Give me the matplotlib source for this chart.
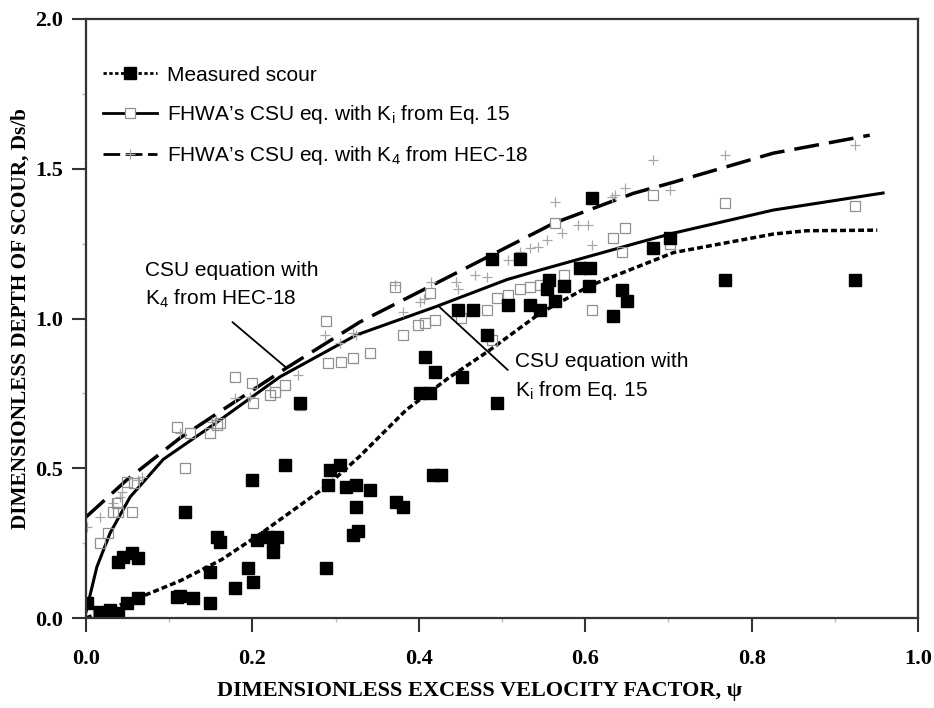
import matplotlib
matplotlib.use("Agg")
import matplotlib.pyplot as plt
from matplotlib.lines import Line2D

plt.rcParams['mathtext.fontset'] = 'custom'
plt.rcParams['mathtext.rm'] = 'Liberation Sans'

# measured scour (black squares)
meas_x = [0.001, 0.017, 0.029, 0.039, 0.049, 0.063, 0.039, 0.045, 0.055, 0.063,
          0.119, 0.109, 0.113, 0.129, 0.149, 0.149, 0.157, 0.161, 0.179, 0.195,
          0.201, 0.199, 0.205, 0.217, 0.225, 0.225, 0.229, 0.239, 0.257, 0.289,
          0.293, 0.291, 0.305, 0.313, 0.325, 0.325, 0.321, 0.327, 0.341, 0.373,
          0.381, 0.417, 0.427, 0.401, 0.413, 0.407, 0.419, 0.452, 0.494, 0.482,
          0.447, 0.465, 0.488, 0.522, 0.507, 0.534, 0.546, 0.564, 0.554, 0.556,
          0.574, 0.594, 0.606, 0.604, 0.608, 0.644, 0.650, 0.634, 0.682, 0.702,
          0.768, 0.924]
meas_y = [0.050, 0.020, 0.027, 0.017, 0.050, 0.067, 0.187, 0.205, 0.217, 0.200,
          0.354, 0.070, 0.075, 0.067, 0.050, 0.154, 0.270, 0.254, 0.100, 0.167,
          0.120, 0.461, 0.260, 0.270, 0.254, 0.220, 0.270, 0.510, 0.717, 0.167,
          0.494, 0.444, 0.510, 0.437, 0.444, 0.370, 0.277, 0.290, 0.427, 0.387,
          0.370, 0.477, 0.477, 0.750, 0.750, 0.872, 0.820, 0.805, 0.717, 0.945,
          1.030, 1.030, 1.200, 1.200, 1.045, 1.045, 1.030, 1.060, 1.100, 1.128,
          1.110, 1.168, 1.168, 1.110, 1.402, 1.095, 1.060, 1.010, 1.235, 1.268,
          1.128, 1.128]

# FHWA CSU eq. with Ki from Eq. 15 (open squares)
ki_x = [0.002, 0.017, 0.027, 0.032, 0.039, 0.055, 0.037, 0.049, 0.058, 0.119,
        0.109, 0.125, 0.149, 0.157, 0.161, 0.179, 0.199, 0.201, 0.221, 0.227,
        0.239, 0.257, 0.289, 0.291, 0.307, 0.321, 0.341, 0.371, 0.381, 0.399,
        0.407, 0.419, 0.413, 0.451, 0.482, 0.488, 0.494, 0.507, 0.522, 0.534,
        0.546, 0.564, 0.574, 0.608, 0.634, 0.648, 0.644, 0.682, 0.702, 0.768,
        0.924]
ki_y = [0.020, 0.250, 0.283, 0.354, 0.354, 0.354, 0.384, 0.454, 0.450, 0.500,
        0.638, 0.617, 0.617, 0.645, 0.652, 0.805, 0.785, 0.717, 0.745, 0.755,
        0.778, 0.712, 0.990, 0.851, 0.855, 0.868, 0.885, 1.105, 0.945, 0.978,
        0.985, 0.995, 1.085, 1.002, 1.028, 0.928, 1.068, 1.078, 1.100, 1.105,
        1.112, 1.318, 1.145, 1.028, 1.268, 1.302, 1.222, 1.412, 1.250, 1.385,
        1.375]

# FHWA CSU eq. with K4 from HEC-18 (pluses)
k4_x = [0.001, 0.017, 0.032, 0.041, 0.043, 0.063, 0.067, 0.113, 0.151, 0.156,
        0.179, 0.197, 0.221, 0.255, 0.287, 0.305, 0.321, 0.325, 0.371, 0.381,
        0.401, 0.406, 0.415, 0.445, 0.447, 0.467, 0.482, 0.507, 0.522, 0.534,
        0.543, 0.554, 0.564, 0.572, 0.591, 0.603, 0.608, 0.632, 0.636, 0.648,
        0.682, 0.702, 0.768, 0.924]
k4_y = [0.304, 0.337, 0.384, 0.404, 0.420, 0.461, 0.470, 0.617, 0.655, 0.660,
        0.735, 0.738, 0.761, 0.811, 0.945, 0.918, 0.951, 0.945, 1.112, 1.022,
        1.055, 1.065, 1.122, 1.122, 1.100, 1.145, 1.140, 1.195, 1.222, 1.235,
        1.238, 1.262, 1.389, 1.285, 1.312, 1.312, 1.245, 1.405, 1.412, 1.435,
        1.529, 1.429, 1.546, 1.579]

# trend curves
fit_meas_x = [0.0, 0.063, 0.113, 0.163, 0.209, 0.289, 0.329, 0.385, 0.435, 0.483,
              0.546, 0.606, 0.706, 0.826, 0.866, 0.951]
fit_meas_y = [0.0, 0.067, 0.124, 0.195, 0.280, 0.440, 0.540, 0.695, 0.800, 0.890,
              1.018, 1.110, 1.220, 1.282, 1.293, 1.295]
fit_ki_x = [0.0, 0.013, 0.029, 0.053, 0.093, 0.153, 0.233, 0.325, 0.421, 0.506,
            0.546, 0.666, 0.706, 0.826, 0.958]
fit_ki_y = [0.02, 0.17, 0.284, 0.404, 0.530, 0.645, 0.805, 0.945, 1.04, 1.130,
            1.162, 1.255, 1.285, 1.362, 1.419]
fit_k4_x = [0.0, 0.049, 0.113, 0.173, 0.241, 0.329, 0.421, 0.546, 0.562, 0.658,
            0.706, 0.826, 0.942]
fit_k4_y = [0.337, 0.461, 0.601, 0.711, 0.835, 0.988, 1.118, 1.295, 1.318, 1.418,
            1.455, 1.552, 1.612]

xticks = [0.0, 0.2, 0.4, 0.6, 0.8, 1.0]
yticks = [0.0, 0.5, 1.0, 1.5, 2.0]

serif = ['Liberation Serif', 'DejaVu Serif']
sans = ['Liberation Sans', 'DejaVu Sans']

fig = plt.figure(figsize=(9.34, 7.08), dpi=100)
ax = fig.add_axes([86 / 934, 1 - 618 / 708, 832 / 934, 599 / 708])

ax.plot(fit_meas_x, fit_meas_y, color='black', lw=2.5, linestyle=(0, (1.7, 0.9)))
ax.plot(fit_ki_x, fit_ki_y, color='black', lw=2.2, linestyle='-')
ax.plot(fit_k4_x, fit_k4_y, color='black', lw=2.5, linestyle=(0, (7.2, 2.9)))

ax.plot(k4_x, k4_y, linestyle='none', marker='+', ms=7, mew=0.9, color='#a8a8a8')
ax.plot(ki_x, ki_y, linestyle='none', marker='s', ms=6.5, mew=0.9,
        markerfacecolor='none', markeredgecolor='#909090')
ax.plot(meas_x, meas_y, linestyle='none', marker='s', ms=9, color='black')

ax.set_xlim(0, 1.0)
ax.set_ylim(0, 2.0)
ax.set_xticks(xticks)
ax.set_yticks(yticks)
ax.set_xticks([0.1, 0.3, 0.5, 0.7, 0.9], minor=True)
ax.set_yticks([0.25, 0.75, 1.25, 1.75], minor=True)
ax.set_xticklabels([f"{v:.1f}" for v in xticks], family=serif, weight='bold', fontsize=16)
ax.set_yticklabels([f"{v:.1f}" for v in yticks], family=serif, weight='bold', fontsize=16)
ax.tick_params(which='major', direction='out', length=10, width=1.5, color='#333333')
ax.tick_params(axis='x', which='major', pad=12)
ax.tick_params(axis='y', which='major', pad=6.5)
ax.tick_params(which='minor', direction='out', length=3, width=1, color='#bbbbbb')

for s in ax.spines.values():
    s.set_linewidth(1.6)
    s.set_color('#333333')

ax.set_xlabel('DIMENSIONLESS EXCESS VELOCITY FACTOR, ψ', family=serif,
              weight='bold', fontsize=16, labelpad=14)
ax.xaxis.set_label_coords((480 - 86) / 832, -0.105)
ax.set_ylabel('DIMENSIONLESS DEPTH OF SCOUR, Ds/b', family=serif,
              weight='bold', fontsize=15.3, labelpad=3)

handles = [
    Line2D([], [], color='black', lw=2, linestyle=(0, (1.2, 0.9)), marker='s', ms=8,
           markerfacecolor='black', markeredgecolor='black'),
    Line2D([], [], color='black', lw=2, linestyle='-', marker='s', ms=7, mew=0.9,
           markerfacecolor='white', markeredgecolor='#909090'),
    Line2D([], [], color='black', lw=2, linestyle=(0, (6, 2)), marker='+', ms=7, mew=0.9,
           markeredgecolor='#a8a8a8'),
]
labels = ['Measured scour',
          'FHWA\u2019s CSU eq. with K$_\\mathrm{i}$ from Eq. 15',
          'FHWA\u2019s CSU eq. with K$_\\mathrm{4}$ from HEC-18']
ax.legend(handles, labels, loc='upper left', bbox_to_anchor=(0.02, 0.922),
          frameon=False, borderpad=0, borderaxespad=0, handlelength=2.6,
          handletextpad=0.5, labelspacing=0.88, prop={'family': sans, 'size': 15})

# curve annotations
k4_note_xy = (0.071, 1.11)
k4_leader = [(0.176, 0.988), (0.241, 0.835)]
ki_note_xy = (0.5156, 0.805)
ki_leader = [(0.425, 1.038), (0.507, 0.828)]

ax.text(*k4_note_xy, 'CSU equation with\nK$_\\mathrm{4}$ from HEC-18', family=sans,
        fontsize=15, ha='left', va='center', linespacing=1.45)
ax.annotate('', xy=k4_leader[1], xytext=k4_leader[0],
            arrowprops=dict(arrowstyle='-', lw=1.3, color='black', shrinkA=0, shrinkB=0))
ax.text(*ki_note_xy, 'CSU equation with\nK$_\\mathrm{i}$ from Eq. 15', family=sans,
        fontsize=15, ha='left', va='center', linespacing=1.45)
ax.annotate('', xy=ki_leader[1], xytext=ki_leader[0],
            arrowprops=dict(arrowstyle='-', lw=1.3, color='black', shrinkA=0, shrinkB=0))

fig.savefig('out.png', dpi=100)
